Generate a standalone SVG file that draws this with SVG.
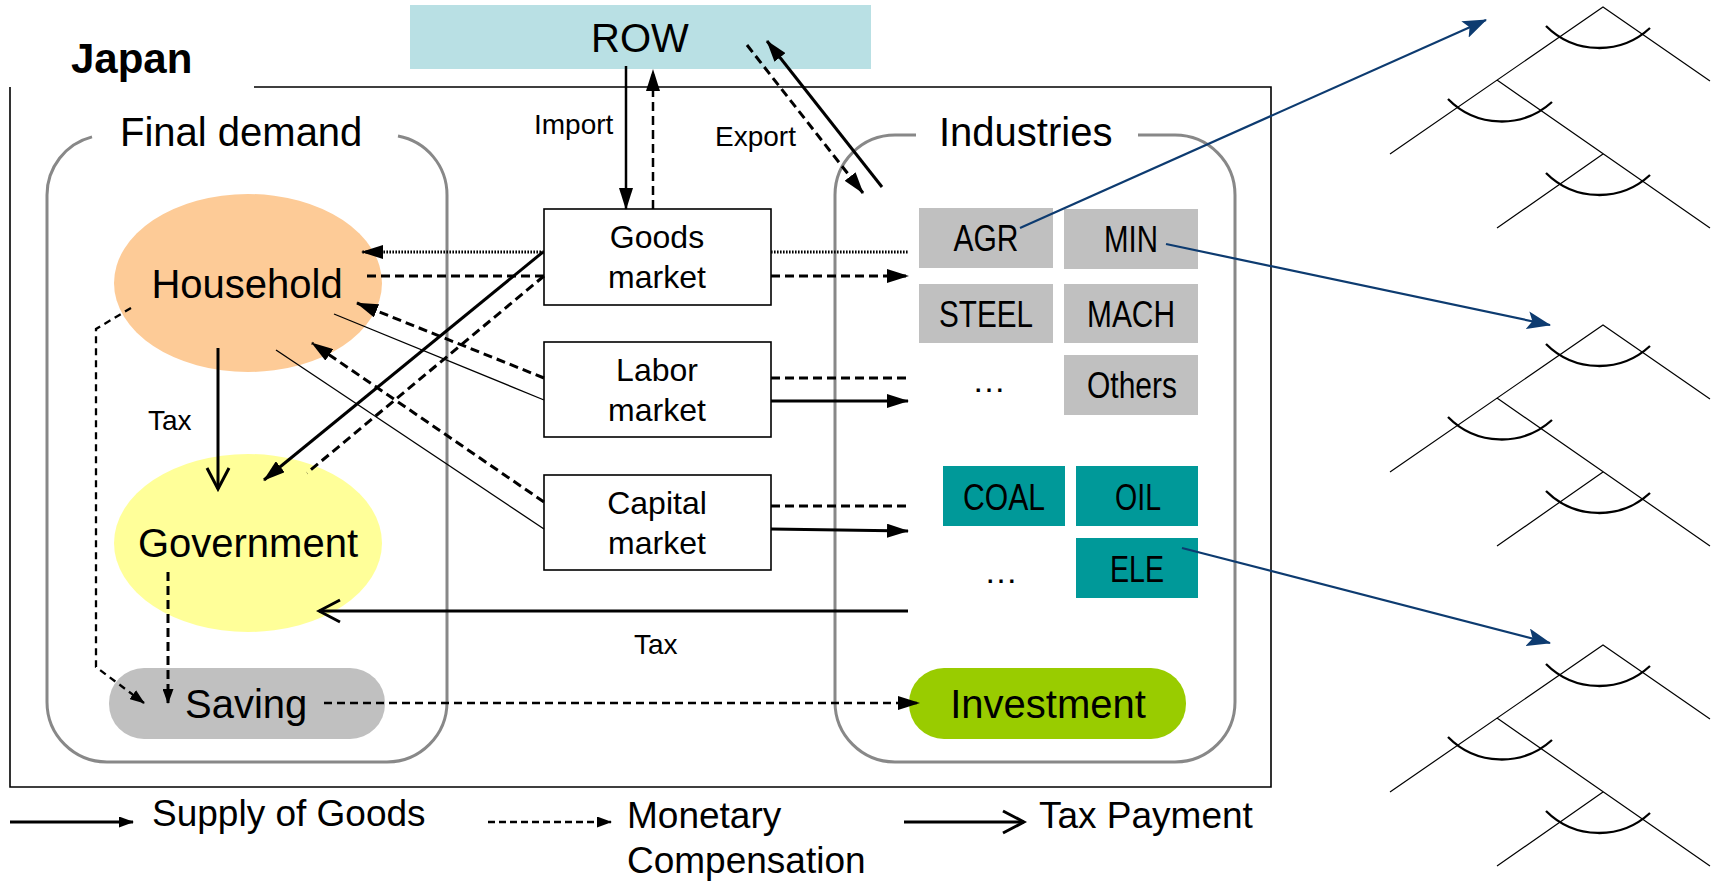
<svg xmlns="http://www.w3.org/2000/svg" width="1718" height="881" viewBox="0 0 1718 881">
<style>
text{font-family:"Liberation Sans",Arial,sans-serif;fill:#000}
.t40{font-size:40px}
.t32{font-size:32px;text-anchor:middle}
.t28{font-size:28px}
.t37{font-size:37px}
.ind{font-size:37px;text-anchor:middle}
.grp{fill:none;stroke:#888;stroke-width:3}
.box{fill:#fff;stroke:#000;stroke-width:1.6}
.sol{fill:none;stroke:#000;stroke-width:3}
.dsh{fill:none;stroke:#000;stroke-width:3;stroke-dasharray:9 5}
.dot{fill:none;stroke:#000;stroke-width:3;stroke-dasharray:1.6 1.4}
.thin{fill:none;stroke:#000;stroke-width:1.3}
.blue{fill:none;stroke:#0d3b70;stroke-width:2.2}
.tl{fill:none;stroke:#000;stroke-width:1.2}
.ta{fill:none;stroke:#000;stroke-width:2.3}
</style>
<defs>
<marker id="ah" markerUnits="userSpaceOnUse" viewBox="0 0 22 14" markerWidth="22" markerHeight="14" refX="21" refY="7" orient="auto"><path d="M0,0 L22,7 L0,14 z" fill="#000"/></marker>
<marker id="ahs" markerUnits="userSpaceOnUse" viewBox="0 0 15 11" markerWidth="15" markerHeight="11" refX="14" refY="5.5" orient="auto"><path d="M0,0 L15,5.5 L0,11 z" fill="#000"/></marker>
<marker id="av" markerUnits="userSpaceOnUse" viewBox="-3 -3 27 28" markerWidth="27" markerHeight="28" refX="21" refY="11" orient="auto"><path d="M0,0 L21,11 L0,22" fill="none" stroke="#000" stroke-width="3"/></marker>
<marker id="ab" markerUnits="userSpaceOnUse" viewBox="0 0 24 18" markerWidth="24" markerHeight="18" refX="23" refY="9" orient="auto"><path d="M0,0 L24,9 L0,18 L5,9 z" fill="#0d3b70"/></marker>
</defs>
<rect width="1718" height="881" fill="#fff"/>

<g id="japan">
<path d="M254,87 H1271 V787 H10 V87" fill="none" stroke="#000" stroke-width="1.6"/>
<text x="71" y="73" style="font-size:42px;font-weight:bold">Japan</text>
</g>

<g id="final-demand">
<path class="grp" d="M398,136 A60,60 0 0 1 447,195 V702 A60,60 0 0 1 387,762 H107 A60,60 0 0 1 47,702 V195 A60,60 0 0 1 92,136.9"/>
<text class="t40" x="120" y="146">Final demand</text>
</g>

<g id="industries">
<path class="grp" d="M1138,135 H1175 A60,60 0 0 1 1235,195 V702 A60,60 0 0 1 1175,762 H895 A60,60 0 0 1 835,702 V195 A60,60 0 0 1 895,135 H916"/>
<text class="t40" x="939" y="146">Industries</text>
</g>

<g id="row">
<rect x="410" y="5" width="461" height="64" fill="#b9e0e4"/>
<text class="t40" x="640" y="52" text-anchor="middle">ROW</text>
</g>

<g id="household">
<ellipse cx="248" cy="283" rx="134" ry="89" fill="#fdcb97"/>
<text class="t40" x="247" y="298" text-anchor="middle">Household</text>
</g>

<g id="government">
<ellipse cx="248" cy="543" rx="134" ry="89" fill="#ffff99"/>
<text class="t40" x="248" y="557" text-anchor="middle">Government</text>
</g>

<g id="saving">
<rect x="109" y="668" width="276" height="71" rx="35" fill="#c0c0c0"/>
<text class="t40" x="185" y="718">Saving</text>
</g>

<g id="investment">
<rect x="909" y="668" width="277" height="71" rx="35" fill="#99cc00"/>
<text class="t40" x="1048" y="718" text-anchor="middle">Investment</text>
</g>

<g id="goods-market">
<rect class="box" x="544" y="209" width="227" height="96"/>
<text class="t32" x="657" y="248">Goods</text>
<text class="t32" x="657" y="288">market</text>
</g>

<g id="labor-market">
<rect class="box" x="544" y="342" width="227" height="95"/>
<text class="t32" x="657" y="381">Labor</text>
<text class="t32" x="657" y="421">market</text>
</g>

<g id="capital-market">
<rect class="box" x="544" y="475" width="227" height="95"/>
<text class="t32" x="657" y="514">Capital</text>
<text class="t32" x="657" y="554">market</text>
</g>

<g id="agr"><rect x="919" y="208" width="134" height="60" fill="#c0c0c0"/><text class="ind" x="986" y="251" textLength="65" lengthAdjust="spacingAndGlyphs">AGR</text></g>
<g id="min"><rect x="1064" y="209" width="134" height="60" fill="#c0c0c0"/><text class="ind" x="1131" y="252" textLength="54" lengthAdjust="spacingAndGlyphs">MIN</text></g>
<g id="steel"><rect x="919" y="284" width="134" height="59" fill="#c0c0c0"/><text class="ind" x="986" y="327" textLength="94" lengthAdjust="spacingAndGlyphs">STEEL</text></g>
<g id="mach"><rect x="1064" y="284" width="134" height="59" fill="#c0c0c0"/><text class="ind" x="1131" y="327" textLength="88" lengthAdjust="spacingAndGlyphs">MACH</text></g>
<g id="others"><rect x="1064" y="355" width="134" height="60" fill="#c0c0c0"/><text class="ind" x="1132" y="398" textLength="90" lengthAdjust="spacingAndGlyphs">Others</text></g>
<g id="dots1"><text class="ind" x="989" y="392" style="font-size:34px">…</text></g>
<g id="coal"><rect x="943" y="466" width="122" height="60" fill="#009999"/><text class="ind" x="1004" y="510" textLength="82" lengthAdjust="spacingAndGlyphs">COAL</text></g>
<g id="oil"><rect x="1076" y="466" width="122" height="60" fill="#009999"/><text class="ind" x="1138" y="510" textLength="46" lengthAdjust="spacingAndGlyphs">OIL</text></g>
<g id="ele"><rect x="1076" y="538" width="122" height="60" fill="#009999"/><text class="ind" x="1137" y="582" textLength="54" lengthAdjust="spacingAndGlyphs">ELE</text></g>
<g id="dots2"><text class="ind" x="1001" y="583" style="font-size:34px">…</text></g>

<g id="tree1">
<path class="tl" d="M1390,154 L1603,7 L1710,81 M1497,80 L1710,228 M1603,154 L1497,228"/>
<path class="ta" d="M1546,26 A75,75 0 0 0 1650,28 M1448,99 A75,75 0 0 0 1552,102 M1546,173 A75,75 0 0 0 1650,175"/>
</g>
<g id="tree2" transform="translate(0,318)">
<path class="tl" d="M1390,154 L1603,7 L1710,81 M1497,80 L1710,228 M1603,154 L1497,228"/>
<path class="ta" d="M1546,26 A75,75 0 0 0 1650,28 M1448,99 A75,75 0 0 0 1552,102 M1546,173 A75,75 0 0 0 1650,175"/>
</g>
<g id="tree3" transform="translate(0,638)">
<path class="tl" d="M1390,154 L1603,7 L1710,81 M1497,80 L1710,228 M1603,154 L1497,228"/>
<path class="ta" d="M1546,26 A75,75 0 0 0 1650,28 M1448,99 A75,75 0 0 0 1552,102 M1546,173 A75,75 0 0 0 1650,175"/>
</g>

<g id="connectors">
<line class="sol" style="stroke-width:2.5" x1="626" y1="66" x2="626" y2="209" marker-end="url(#ah)"/>
<line class="dsh" style="stroke-width:2.5" x1="653" y1="209" x2="653" y2="70" marker-end="url(#ah)"/>
<text class="t28" x="534" y="134">Import</text>
<line class="dsh" x1="747" y1="45" x2="863" y2="193" marker-end="url(#ah)"/>
<line class="sol" x1="882" y1="187" x2="767" y2="41" marker-end="url(#ah)"/>
<text class="t28" x="715" y="146">Export</text>
<line class="dot" x1="544" y1="252" x2="362" y2="252" marker-end="url(#ah)"/>
<line class="dsh" x1="544" y1="276" x2="363" y2="276"/>
<line class="dot" x1="771" y1="252" x2="908" y2="252"/>
<line class="dsh" x1="771" y1="276" x2="908" y2="276" marker-end="url(#ah)"/>
<line class="sol" x1="543" y1="252" x2="264" y2="480" marker-end="url(#ah)"/>
<line class="dsh" x1="544" y1="276" x2="307" y2="473"/>
<line class="dsh" x1="544" y1="378" x2="357" y2="303" marker-end="url(#ah)"/>
<line class="thin" x1="544" y1="400" x2="334" y2="314"/>
<line class="dsh" x1="771" y1="378" x2="906" y2="378"/>
<line class="sol" x1="771" y1="401" x2="908" y2="401" marker-end="url(#ah)"/>
<line class="dsh" x1="544" y1="502" x2="312" y2="343" marker-end="url(#ah)"/>
<line class="thin" x1="544" y1="529" x2="276" y2="350"/>
<line class="dsh" x1="771" y1="506" x2="906" y2="506"/>
<line class="sol" x1="771" y1="529" x2="908" y2="531" marker-end="url(#ah)"/>
<line class="sol" x1="218" y1="348" x2="218" y2="489" marker-end="url(#av)"/>
<text class="t28" x="148" y="430">Tax</text>
<line class="sol" x1="908" y1="611" x2="319" y2="611" marker-end="url(#av)"/>
<text class="t28" x="634" y="654">Tax</text>
<path class="dsh" style="stroke-width:2.3;stroke-dasharray:7 5" d="M131,308 L96,329 V667 L144,703" marker-end="url(#ahs)"/>
<line class="dsh" x1="168" y1="572" x2="168" y2="703" marker-end="url(#ahs)"/>
<line class="dsh" style="stroke-width:2.6;stroke-dasharray:8 5" x1="324" y1="703" x2="919" y2="703" marker-end="url(#ah)"/>
<line class="blue" x1="1020" y1="228" x2="1486" y2="20" marker-end="url(#ab)"/>
<line class="blue" x1="1166" y1="244" x2="1550" y2="325" marker-end="url(#ab)"/>
<line class="blue" x1="1182" y1="548" x2="1550" y2="643" marker-end="url(#ab)"/>
</g>

<g id="legend">
<line class="sol" x1="10" y1="822" x2="133" y2="822" marker-end="url(#ahs)"/>
<text class="t37" x="152" y="826">Supply of Goods</text>
<line class="dsh" style="stroke-width:2.3;stroke-dasharray:7 4" x1="488" y1="822" x2="611" y2="822" marker-end="url(#ahs)"/>
<text class="t37" x="627" y="828">Monetary</text>
<text class="t37" x="627" y="873">Compensation</text>
<line class="sol" x1="904" y1="822" x2="1024" y2="822" marker-end="url(#av)"/>
<text class="t37" x="1039" y="828">Tax Payment</text>
</g>
</svg>
